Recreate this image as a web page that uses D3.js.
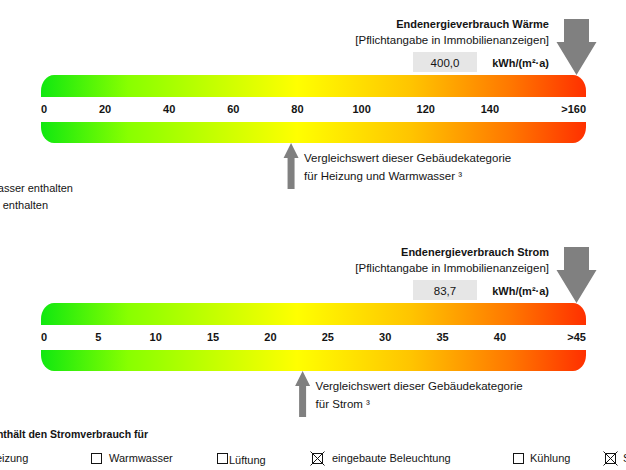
<!DOCTYPE html>
<html>
<head>
<meta charset="utf-8">
<script src="https://cdn.jsdelivr.net/npm/d3@7"></script>
<style>
  html, body { margin: 0; padding: 0; background: #fff; }
  svg { display: block; font-family: "Liberation Sans", Arial, sans-serif; }
</style>
</head>
<body>
<div id="chart"></div>
<script>
// Daten
const titles = ["Endenergieverbrauch Wärme", "Endenergieverbrauch Strom"];
const subtitle = "[Pflichtangabe in Immobilienanzeigen]";
const unit = "kWh/(m²·a)";
const values = [400.0, 83.7];
const valueLabels = ["400,0", "83,7"];
const scaleMax = [160, 45];
const tickStep = [20, 5];
const ticksWaerme = ["0", "20", "40", "60", "80", "100", "120", "140", ">160"];
const ticksStrom = ["0", "5", "10", "15", "20", "25", "30", "35", "40", ">45"];
const comparison = [78, 22.8];
const comparisonTexts = [
  ["Vergleichswert dieser Gebäudekategorie", "für Heizung und Warmwasser ³"],
  ["Vergleichswert dieser Gebäudekategorie", "für Strom ³"]
];
const sideNotes = ["Warmwasser enthalten", "Kühlung enthalten"];
const legendTitle = "Der Wert enthält den Stromverbrauch für";
const checkLabels = ["Heizung", "Warmwasser", "Lüftung", "eingebaute Beleuchtung", "Kühlung", "Sonstiges"];
const checked = [false, false, false, true, false, true];

const width = 626, height = 470;
const barX0 = 41, barX1 = 586;
const offsets = [0, 228];
const grey = "#808080", ink = "#141414";
const fs = 11.5;

const svg = d3.select("#chart").append("svg")
  .attr("width", width).attr("height", height)
  .attr("viewBox", `0 0 ${width} ${height}`);

const defs = svg.append("defs");
const grad = defs.append("linearGradient").attr("id", "scaleGrad")
  .attr("gradientUnits", "userSpaceOnUse")
  .attr("x1", barX0).attr("x2", barX1).attr("y1", 0).attr("y2", 0);
[[0, "#10e810"], [0.16, "#88ff00"], [0.47, "#ffff00"], [0.68, "#ffc400"], [0.86, "#ff7800"], [1, "#ff3000"]]
  .forEach(([o, c]) => grad.append("stop").attr("offset", o).attr("stop-color", c));

const tickSets = [ticksWaerme, ticksStrom];

function drawGauge(i) {
  const g = svg.append("g").attr("transform", `translate(0,${offsets[i]})`);
  const max = scaleMax[i] + tickStep[i] / 2;
  const x = d3.scaleLinear().domain([0, max]).range([barX0, barX1]);

  // Band mit abgerundeten Ecken
  const clipId = "clip" + i;
  defs.append("clipPath").attr("id", clipId)
    .append("rect").attr("x", barX0).attr("y", 75).attr("width", barX1 - barX0).attr("height", 68)
    .attr("rx", 13).attr("ry", 16);
  const bands = g.append("g").attr("clip-path", `url(#${clipId})`);
  bands.append("rect").attr("x", barX0).attr("y", 75).attr("width", barX1 - barX0).attr("height", 22)
    .attr("fill", "url(#scaleGrad)");
  bands.append("rect").attr("x", barX0).attr("y", 122).attr("width", barX1 - barX0).attr("height", 21)
    .attr("fill", "url(#scaleGrad)");

  // Skalenbeschriftung
  const labels = tickSets[i];
  g.selectAll(".tick").data(labels).join("text")
    .attr("x", (d, j) => j === labels.length - 1 ? barX1 : x(j * tickStep[i]))
    .attr("y", 113)
    .attr("text-anchor", (d, j) => j === 0 ? "start" : j === labels.length - 1 ? "end" : "middle")
    .attr("font-size", 11).attr("font-weight", "bold").attr("fill", ink)
    .text(d => d);

  // Titel, Wert, Einheit
  g.append("text").attr("x", 549).attr("y", 28).attr("text-anchor", "end")
    .attr("font-size", 11).attr("font-weight", "bold").attr("fill", ink).text(titles[i]);
  g.append("text").attr("x", 549).attr("y", 44).attr("text-anchor", "end")
    .attr("font-size", fs).attr("fill", ink).text(subtitle);
  g.append("rect").attr("x", 413).attr("y", 52).attr("width", 64).attr("height", 20).attr("fill", "#e6e6e6");
  g.append("text").attr("x", 445).attr("y", 66.5).attr("text-anchor", "middle")
    .attr("font-size", fs).attr("fill", ink).text(valueLabels[i]);
  g.append("text").attr("x", 549).attr("y", 66.5).attr("text-anchor", "end")
    .attr("font-size", 11).attr("font-weight", "bold").attr("fill", ink).text(unit);

  // Pfeil nach unten (Verbrauchswert, am Skalenende begrenzt)
  const ax = Math.min(x(values[i]), barX1 - 9.5);
  g.append("path")
    .attr("d", `M${ax - 12.5},19 H${ax + 12.5} V42 H${ax + 20} L${ax},75 L${ax - 20},42 H${ax - 12.5} Z`)
    .attr("fill", grey);

  // Pfeil nach oben (Vergleichswert)
  const cx = x(comparison[i]);
  g.append("path")
    .attr("d", `M${cx},143 L${cx + 7.5},158 H${cx + 3.5} V189 H${cx - 3.5} V158 H${cx - 7.5} Z`)
    .attr("fill", grey);
  g.selectAll(".cmp").data(comparisonTexts[i]).join("text")
    .attr("x", cx + 13).attr("y", (d, j) => 162 + j * 18)
    .attr("font-size", fs).attr("fill", ink)
    .text(d => d);
}

drawGauge(0);
drawGauge(1);

// Randnotizen links (angeschnitten wie im Original)
svg.selectAll(".side").data(sideNotes).join("text")
  .attr("x", (d, j) => j === 0 ? 73 : 48).attr("y", (d, j) => 192 + j * 17)
  .attr("text-anchor", "end").attr("font-size", 11).attr("fill", ink)
  .text(d => d);

// Legende Stromverbrauch
svg.append("text").attr("x", 148).attr("y", 438).attr("text-anchor", "end")
  .attr("font-size", 10.5).attr("font-weight", "bold").attr("fill", ink).text(legendTitle);

const boxX = [-30, 91, 217, 312, 513, 605];
const labelDx = [18, 18, 12, 20, 17, 18];
const labelDy = [0, 0, 2, 0, 0, 0];
const items = svg.selectAll(".item").data(checkLabels).join("g")
  .attr("transform", (d, j) => `translate(${boxX[j]},453)`);
items.append("rect").attr("x", 0.5).attr("y", 0.5).attr("width", 10).attr("height", 10)
  .attr("fill", "none").attr("stroke", ink).attr("stroke-width", 1);
items.filter((d, j) => checked[j]).append("path")
  .attr("d", "M-1.5,-1.5 L12.5,12.5 M12.5,-1.5 L-1.5,12.5")
  .attr("stroke", ink).attr("stroke-width", 1);
items.append("text")
  .attr("x", (d, j) => labelDx[j]).attr("y", (d, j) => 9 + labelDy[j])
  .attr("font-size", 11).attr("fill", ink)
  .text(d => d);
</script>
</body>
</html>
